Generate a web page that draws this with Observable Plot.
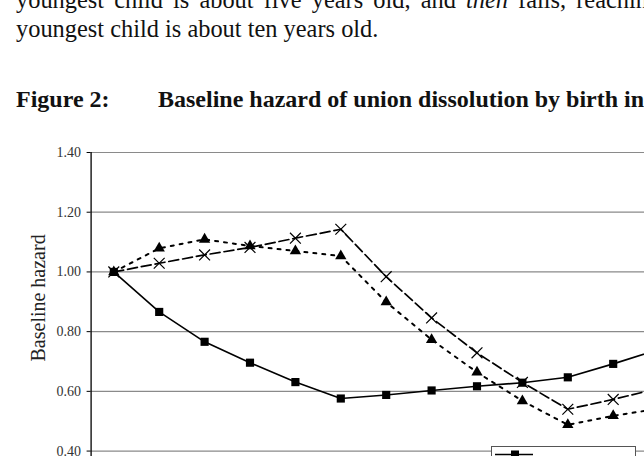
<!DOCTYPE html>
<html>
<head>
<meta charset="utf-8">
<script src="https://cdn.jsdelivr.net/npm/d3@7"></script>
<script src="https://cdn.jsdelivr.net/npm/@observablehq/plot@0.6"></script>
<style>
  html, body { margin: 0; padding: 0; background: #fff; width: 644px; height: 456px; overflow: hidden; position: relative; }
  .t { position: absolute; font-family: "Liberation Serif", "Times New Roman", serif; font-size: 24.4px; line-height: 24px; color: #111; white-space: nowrap; }
  #chart { position: absolute; left: 0; top: 140px; width: 760px; }
  #chart svg { max-width: none !important; }
  #legend { position: absolute; left: 491px; top: 446px; width: 143px; height: 40px; border: 1px solid #555; background: #fff; }
</style>
</head>
<body>
<div class="t" style="left:16px; top:-12px; word-spacing:4px;">youngest child is about five years old, and <i>then</i> falls, reaching the</div>
<div class="t" style="left:16px; top:17px;">youngest child is about ten years old.</div>
<div class="t" style="left:16px; top:87px; font-weight:bold; font-size:24px;">Figure 2:</div>
<div class="t" style="left:158px; top:87px; font-weight:bold; font-size:24px;">Baseline hazard of union dissolution by birth interval</div>
<div id="chart"></div>
<div id="legend">
  <svg width="143" height="40" style="position:absolute;left:0;top:0">
    <line x1="3" y1="7.5" x2="41" y2="7.5" stroke="#000" stroke-width="1.6"></line>
    <rect x="19" y="3.5" width="8" height="8" fill="#000"></rect>
    <text x="45" y="18.5" font-family="Liberation Serif" font-size="14" fill="#111">No later birth</text>
  </svg>
</div>
<script>
// age of youngest child (years)
const ages = [0, 1, 2, 3, 4, 5, 6, 7, 8, 9, 10, 11, 12];
// series values
const seriesSquares   = [1.00, 0.866, 0.766, 0.696, 0.631, 0.576, 0.588, 0.603, 0.617, 0.629, 0.647, 0.692, 0.74];
const seriesCrosses   = [1.00, 1.029, 1.057, 1.082, 1.113, 1.143, 0.984, 0.846, 0.729, 0.630, 0.540, 0.573, 0.61];
const seriesTriangles = [1.00, 1.079, 1.109, 1.087, 1.070, 1.053, 0.899, 0.773, 0.664, 0.568, 0.488, 0.518, 0.542];
const yTicks = [0.40, 0.60, 0.80, 1.00, 1.20, 1.40];
const yLabel = "Baseline hazard";

const sq = ages.map((a, i) => ({age: a, v: seriesSquares[i]}));
const cr = ages.map((a, i) => ({age: a, v: seriesCrosses[i]}));
const tr = ages.map((a, i) => ({age: a, v: seriesTriangles[i]}));

const W = 760, band = 45.4, left = 90.6;
const chart = Plot.plot({
  width: W,
  height: 460,
  marginTop: 12,
  marginBottom: 30,
  marginLeft: left,
  marginRight: W - left - band * 13,
  style: {background: "transparent", maxWidth: "none", overflow: "visible"},
  x: {domain: [-0.5, 12.5], axis: null},
  y: {domain: [0, 1.4], axis: null},
  marks: [
    Plot.ruleY(yTicks, {stroke: "#8a8a8a", strokeWidth: 1.2}),
    Plot.ruleX([-0.5], {stroke: "#000", strokeWidth: 1.3}),
    Plot.axisY(yTicks, {tickSize: 4, tickPadding: 6, tickFormat: d3.format(".2f"), stroke: "#000",
      fontFamily: "Liberation Serif", fontSize: 14, fill: "#333", label: null}),
    Plot.text([yLabel], {frameAnchor: "left", dx: -52.5, rotate: -90, fontFamily: "Liberation Serif", fontSize: 20, fill: "#222"}),
    Plot.line(tr, {x: "age", y: "v", stroke: "#000", strokeWidth: 2, strokeDasharray: "3,6"}),
    Plot.line(cr, {x: "age", y: "v", stroke: "#000", strokeWidth: 1.7, strokeDasharray: "10,4"}),
    Plot.line(sq, {x: "age", y: "v", stroke: "#000", strokeWidth: 1.6}),
    Plot.dot(tr, {x: "age", y: "v", symbol: "triangle", fill: "#000", r: 4.2}),
    Plot.dot(cr, {x: "age", y: "v", symbol: "times", stroke: "#000", strokeWidth: 1.2, r: 5}),
    Plot.dot(sq, {x: "age", y: "v", symbol: "square", fill: "#000", r: 4.6})
  ]
});
document.getElementById("chart").appendChild(chart);
</script>
</body>
</html>
